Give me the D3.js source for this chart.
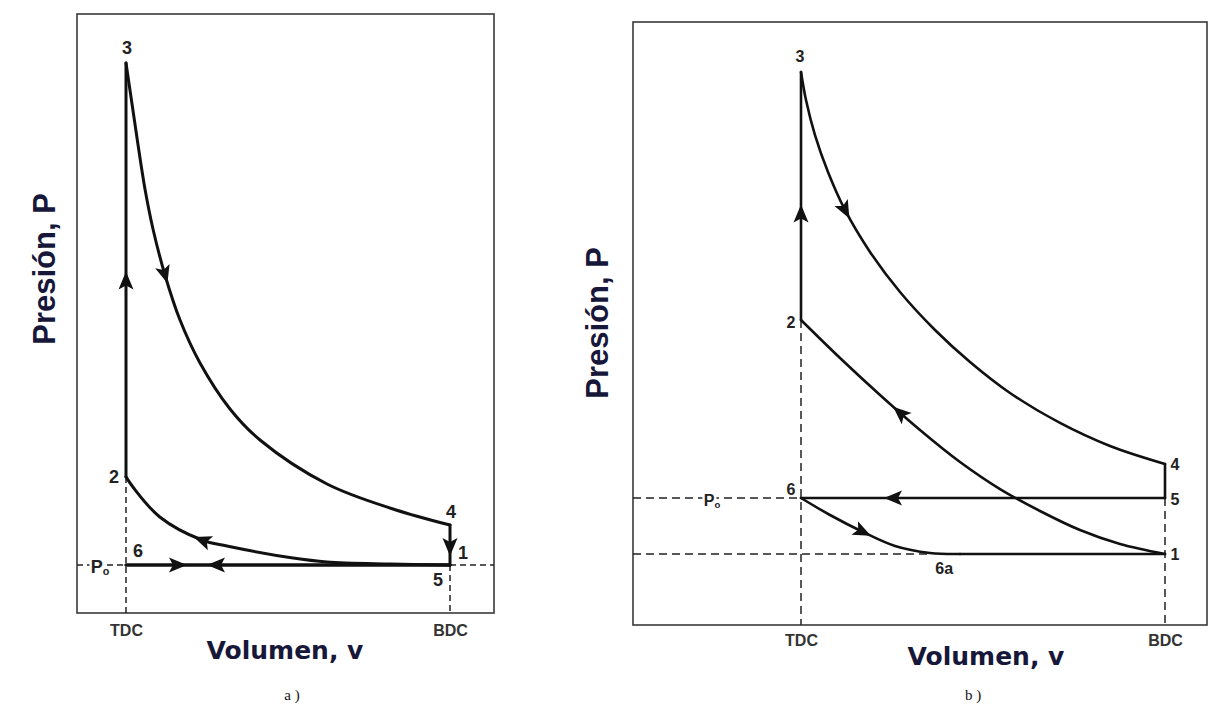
<!DOCTYPE html>
<html>
<head>
<meta charset="utf-8">
<script src="https://cdn.jsdelivr.net/npm/d3@7.9.0/dist/d3.min.js"></script>
<style>
  body { margin: 0; background: #fff; }
  svg { display: block; }
</style>
</head>
<body>
<svg id="chart" width="1225" height="706"></svg>
<script>
// stroke positions on the volume axis
const strokeLabels = ['TDC', 'BDC'];

// ---- panel a) : V in units of V_TDC, P in bar ----
const aTDC = 1, aBDC = 8;
const aPo = 1, aP2 = 9.6, aP3 = 50, aP4 = 4.9;
const aExpansionV = [1.000, 1.108, 1.238, 1.410, 1.583, 1.842, 2.167, 2.599, 3.247, 3.895, 5.343, 6.769, 8.000];
const aExpansionP = [50.0, 46.68, 42.68, 37.70, 33.80, 29.31, 24.91, 20.72, 16.23, 13.20, 8.91, 6.47, 4.90];
const aCompressionV = [8.00, 6.70, 5.34, 4.61, 3.18, 2.64, 1.73, 1.15, 1.00];
const aCompressionP = [1.0, 1.1, 1.3, 1.68, 2.85, 3.44, 5.69, 8.61, 9.6];

// ---- panel b) : throttled intake, Pi below Po ----
const bTDC = 1, bBDC = 8;
const bPo = 1, bPi = 0.40, bP2 = 2.907, bP3 = 5.564, bP4 = 1.364;
const bExpansionV = [1.000, 1.096, 1.269, 1.519, 1.846, 2.327, 2.904, 3.577, 4.250, 5.019, 5.981, 6.942, 8.000];
const bExpansionP = [5.564, 5.264, 4.889, 4.493, 4.086, 3.636, 3.207, 2.800, 2.457, 2.125, 1.804, 1.557, 1.364];
const bCompressionV = [8.000, 7.135, 6.365, 5.596, 4.827, 4.058, 3.288, 2.519, 1.750, 1.000];
const bCompressionP = [0.400, 0.507, 0.657, 0.861, 1.096, 1.386, 1.729, 2.104, 2.500, 2.907];
const bIntakeV = [1.000, 1.558, 2.192, 2.808, 3.481, 4.058];
const bIntakeP = [1.000, 0.818, 0.636, 0.486, 0.411, 0.400];
const b6aV = 3.6;

const zip = (a, b) => a.map((d, i) => [d, b[i]]);
const ink = '#111';
const labelInk = '#17173a';
const svg = d3.select('#chart');

function addArrow(g, node, key, target) {
  const L = node.getTotalLength();
  let best = 0, bestD = Infinity;
  for (let l = 0; l <= L; l += 0.5) {
    const pt = node.getPointAtLength(l);
    const d = Math.abs((key === 'x' ? pt.x : pt.y) - target);
    if (d < bestD) { bestD = d; best = l; }
  }
  const a = node.getPointAtLength(Math.max(0, best - 2));
  const b = node.getPointAtLength(Math.min(L, best + 2));
  const c = node.getPointAtLength(best);
  const ang = Math.atan2(b.y - a.y, b.x - a.x) * 180 / Math.PI;
  g.append('path')
    .attr('d', 'M9,0 L-9,-7.5 L-5,0 L-9,7.5 Z')
    .attr('transform', `translate(${c.x},${c.y}) rotate(${ang})`)
    .attr('fill', ink);
}

function drawPanel(p) {
  const g = svg.append('g');
  const x = d3.scaleLinear().domain([p.tdc, p.bdc]).range(p.xRange);
  const y = d3.scaleLinear().domain([p.po, p.pTop]).range(p.yRange);
  const f = p.frame;

  // frame
  g.append('rect')
    .attr('x', f.left).attr('y', f.top)
    .attr('width', f.right - f.left).attr('height', f.bottom - f.top)
    .attr('fill', 'none').attr('stroke', '#3a3a3a').attr('stroke-width', 1.6);

  // dashed guides
  const guides = g.append('g')
    .attr('stroke', '#222').attr('stroke-width', 1.5)
    .attr('stroke-dasharray', p.dash).attr('fill', 'none');
  p.guides(x, y).forEach(([x1, y1, x2, y2]) => {
    guides.append('line').attr('x1', x1).attr('y1', y1).attr('x2', x2).attr('y2', y2);
  });

  // TDC / BDC labels
  g.append('g')
    .attr('transform', `translate(0,${f.bottom})`)
    .call(d3.axisBottom(x).tickValues([p.tdc, p.bdc])
      .tickFormat((d, i) => strokeLabels[i]).tickSize(0).tickPadding(p.tickPad))
    .call(ax => ax.select('.domain').remove())
    .selectAll('text')
    .attr('font-family', 'Liberation Sans, Arial, sans-serif')
    .attr('font-weight', 'bold')
    .attr('font-size', 16)
    .attr('fill', '#333');

  // cycle processes
  const smooth = d3.line().x(d => x(d[0])).y(d => y(d[1])).curve(d3.curveCatmullRom.alpha(0.5));
  const straight = d3.line().x(d => x(d[0])).y(d => y(d[1]));
  const nodes = {};
  const cycle = g.append('g').attr('fill', 'none').attr('stroke', ink)
    .attr('stroke-width', p.lineWidth).attr('stroke-linecap', 'round').attr('stroke-linejoin', 'round');
  p.segments.forEach(s => {
    nodes[s.id] = cycle.append('path').attr('d', (s.smooth ? smooth : straight)(s.pts)).node();
  });
  p.arrows.forEach(a => {
    addArrow(g, nodes[a.seg], a.key, a.key === 'x' ? x(a.val) : y(a.val));
  });

  // state labels
  p.labels.forEach(l => {
    const t = g.append('text')
      .attr('x', x(l.v) + l.dx).attr('y', y(l.p) + l.dy)
      .attr('text-anchor', 'middle').attr('dominant-baseline', 'central')
      .attr('font-family', 'Liberation Sans, Arial, sans-serif')
      .attr('font-weight', 'bold').attr('font-size', p.numSize).attr('fill', '#222');
    if (l.sub) {
      t.attr('stroke', '#fff').attr('stroke-width', 5).attr('paint-order', 'stroke');
      t.append('tspan').text(l.text);
      t.append('tspan').attr('font-size', p.numSize * 0.6).attr('dy', 4).text(l.sub);
    } else {
      t.text(l.text);
    }
  });

  // axis titles
  g.append('text')
    .attr('transform', `translate(${p.yTitle[0]},${p.yTitle[1]}) rotate(-90)`)
    .attr('text-anchor', 'middle')
    .attr('font-family', 'Liberation Sans, Arial, sans-serif')
    .attr('font-weight', 'bold').attr('font-size', 31).attr('fill', labelInk)
    .text('Presión, P');
  g.append('text')
    .attr('x', p.xTitle[0]).attr('y', p.xTitle[1])
    .attr('text-anchor', 'middle')
    .attr('font-family', 'DejaVu Sans, sans-serif')
    .attr('font-weight', 'bold').attr('font-size', 25).attr('fill', labelInk)
    .text('Volumen, v');
  g.append('text')
    .attr('x', p.caption[0]).attr('y', p.caption[1])
    .attr('text-anchor', 'middle')
    .attr('font-family', 'Liberation Serif, serif')
    .attr('font-size', 15).attr('fill', '#111')
    .text(p.captionText);
}

drawPanel({
  tdc: aTDC, bdc: aBDC, po: aPo, pTop: aP3,
  xRange: [126, 450], yRange: [565, 63],
  frame: { left: 77, right: 494, top: 14, bottom: 613 },
  dash: '6,4', tickPad: 12, lineWidth: 3, numSize: 18,
  guides: (x, y) => [
    [x(aTDC), y(aP2), x(aTDC), 613],
    [x(aBDC), y(aPo), x(aBDC), 613],
    [77, y(aPo), x(aTDC), y(aPo)],
    [x(aBDC), y(aPo), 494, y(aPo)]
  ],
  segments: [
    { id: 'comp', smooth: true, pts: zip(aCompressionV, aCompressionP) },
    { id: 'heat', pts: [[aTDC, aP2], [aTDC, aP3]] },
    { id: 'exp', smooth: true, pts: zip(aExpansionV, aExpansionP) },
    { id: 'blow', pts: [[aBDC, aP4], [aBDC, aPo]] },
    { id: 'exhaust', pts: [[aBDC, aPo], [aTDC, aPo]] },
    { id: 'intake', pts: [[aTDC, aPo], [aBDC, aPo]] }
  ],
  arrows: [
    { seg: 'heat', key: 'y', val: 28.8 },
    { seg: 'exp', key: 'x', val: 1.84 },
    { seg: 'comp', key: 'x', val: 2.64 },
    { seg: 'blow', key: 'y', val: 2.76 },
    { seg: 'intake', key: 'x', val: 2.12 },
    { seg: 'exhaust', key: 'x', val: 2.94 }
  ],
  labels: [
    { text: '3', v: aTDC, p: aP3, dx: 1, dy: -15 },
    { text: '2', v: aTDC, p: aP2, dx: -12, dy: 0 },
    { text: '6', v: aTDC, p: aPo, dx: 12, dy: -14 },
    { text: '4', v: aBDC, p: aP4, dx: 1, dy: -13 },
    { text: '1', v: aBDC, p: aPo, dx: 13, dy: -12 },
    { text: '5', v: aBDC, p: aPo, dx: -12, dy: 15 },
    { text: 'P', sub: 'o', v: aTDC, p: aPo, dx: -26, dy: 2 }
  ],
  yTitle: [55, 269], xTitle: [285, 659], caption: [292, 700], captionText: 'a )'
});

drawPanel({
  tdc: bTDC, bdc: bBDC, po: bPo, pTop: bP3,
  xRange: [801, 1165], yRange: [498, 72],
  frame: { left: 633, right: 1207, top: 22, bottom: 625 },
  dash: '8,5', tickPad: 10, lineWidth: 2.6, numSize: 16,
  guides: (x, y) => [
    [x(bTDC), y(bP2), x(bTDC), 625],
    [x(bBDC), y(bPo), x(bBDC), 625],
    [633, y(bPo), x(bTDC), y(bPo)],
    [633, y(bPi), x(bIntakeV[4]), y(bPi)]
  ],
  segments: [
    { id: 'comp', smooth: true, pts: zip(bCompressionV, bCompressionP) },
    { id: 'heat', pts: [[bTDC, bP2], [bTDC, bP3]] },
    { id: 'exp', smooth: true, pts: zip(bExpansionV, bExpansionP) },
    { id: 'blow', pts: [[bBDC, bP4], [bBDC, bPo]] },
    { id: 'exhaust', pts: [[bBDC, bPo], [bTDC, bPo]] },
    { id: 'intake', smooth: true, pts: zip(bIntakeV, bIntakeP) },
    { id: 'intake2', pts: [[bIntakeV[5], bPi], [bBDC, bPi]] }
  ],
  arrows: [
    { seg: 'heat', key: 'y', val: 4.05 },
    { seg: 'exp', key: 'x', val: 1.85 },
    { seg: 'comp', key: 'x', val: 2.90 },
    { seg: 'exhaust', key: 'x', val: 2.77 },
    { seg: 'intake', key: 'x', val: 2.19 }
  ],
  labels: [
    { text: '3', v: bTDC, p: bP3, dx: -1, dy: -16 },
    { text: '2', v: bTDC, p: bP2, dx: -10, dy: 2 },
    { text: '6', v: bTDC, p: bPo, dx: -10, dy: -9 },
    { text: '4', v: bBDC, p: bP4, dx: 10, dy: 0 },
    { text: '5', v: bBDC, p: bPo, dx: 10, dy: 1 },
    { text: '1', v: bBDC, p: bPi, dx: 10, dy: 0 },
    { text: '6a', v: b6aV, p: bPi, dx: 8, dy: 14 },
    { text: 'P', sub: 'o', v: bTDC, p: bPo, dx: -89, dy: 2 }
  ],
  yTitle: [608, 323], xTitle: [986, 665], caption: [973, 700], captionText: 'b )'
});
</script>
</body>
</html>
